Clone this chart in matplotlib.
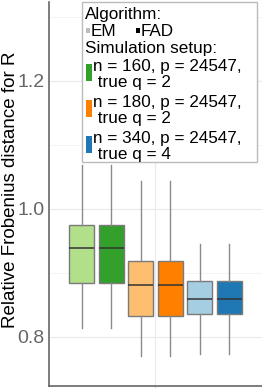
import matplotlib
matplotlib.use('Agg')
import matplotlib.pyplot as plt
from matplotlib.patches import Rectangle

plt.rcParams['font.family'] = ['Liberation Sans', 'DejaVu Sans']

# --- data ---
setups = ['n = 160, p = 24547,\n true q = 2',
          'n = 180, p = 24547,\n true q = 2',
          'n = 340, p = 24547,\n true q = 4']
algorithms = ['EM', 'FAD']
whislo = [0.814, 0.814, 0.770, 0.770, 0.773, 0.773]
q1 = [0.885, 0.885, 0.832, 0.832, 0.836, 0.836]
med = [0.939, 0.939, 0.881, 0.881, 0.860, 0.860]
q3 = [0.975, 0.975, 0.919, 0.919, 0.888, 0.888]
whishi = [1.069, 1.069, 1.044, 1.044, 0.946, 0.946]
box_colors = ['#b2df8a', '#33a02c', '#fdbf6f', '#ff7f00', '#a6cee3', '#1f78b4']
setup_colors = ['#33a02c', '#ff7f00', '#1f78b4']
alg_colors = ['#bdbdbd', '#000000']

W, H = 262, 388
fig = plt.figure(figsize=(W / 100, H / 100), dpi=100)
ax = fig.add_axes([49 / W, 2 / H, 213 / W, 384 / H])

offsets = [-0.415, -0.249, -0.083, 0.083, 0.249, 0.415]
stats = []
for i in range(6):
    stats.append({'med': med[i], 'q1': q1[i], 'q3': q3[i],
                  'whislo': whislo[i], 'whishi': whishi[i], 'fliers': []})
bp = ax.bxp(stats, positions=[1 + o for o in offsets], widths=0.141,
            patch_artist=True, showfliers=False, showcaps=False,
            boxprops=dict(edgecolor='#7a7a7a', linewidth=1.0),
            medianprops=dict(color='#333333', linewidth=1.1),
            whiskerprops=dict(color='#8a8a8a', linewidth=1.0))
for patch, c in zip(bp['boxes'], box_colors):
    patch.set_facecolor(c)

ax.set_xlim(0.4, 1.6)
ax.set_ylim(0.7234, 1.3234)
ax.set_yticks([0.8, 1.0, 1.2])
ax.set_yticklabels(['0.8', '1.0', '1.2'])
ax.set_yticks([0.9, 1.1, 1.3], minor=True)
ax.set_xticks([1.0])
ax.set_xticklabels([''])
ax.tick_params(axis='y', which='both', length=0, labelsize=14, labelcolor='#666666', pad=3)
ax.tick_params(axis='x', length=2, color='#cccccc')
ax.grid(True, which='major', color='#ebebeb', linewidth=0.9)
ax.grid(True, which='minor', axis='y', color='#f3f3f3', linewidth=0.6)
ax.set_axisbelow(True)
for s in ['top', 'right']:
    ax.spines[s].set_visible(False)
for s in ['left', 'bottom']:
    ax.spines[s].set_color('#666666')
    ax.spines[s].set_linewidth(1.2)
ax.set_ylabel('Relative Frobenius distance for R', fontsize=13.5)
ax.yaxis.set_label_coords(-0.141, 0.51)


def px(x, y):
    return x / W, 1 - y / H


# legend drawn by hand, ggplot style
lx0, ly0, lx1, ly1 = 82, 2, 257, 162
fig.add_artist(Rectangle(px(lx0, ly1), (lx1 - lx0) / W, (ly1 - ly0) / H,
                         transform=fig.transFigure, facecolor='white',
                         edgecolor='#bbbbbb', linewidth=1.0, zorder=5))
fs = 12.3
fig.text(*px(85, 19), 'Algorithm:', fontsize=fs, va='baseline', zorder=6)
for k, (name, c) in enumerate(zip(algorithms, alg_colors)):
    x0 = 86 + 50 * k
    fig.add_artist(Rectangle(px(x0, 33), 4 / W, 5 / H, transform=fig.transFigure,
                             facecolor=c, edgecolor='none', zorder=6))
    fig.text(*px(x0 + 5, 36), name, fontsize=fs, va='baseline', zorder=6)
fig.text(*px(85, 53), 'Simulation setup:', fontsize=fs, va='baseline', zorder=6)
for k, (label, c) in enumerate(zip(setups, setup_colors)):
    top = 64 + 36 * k
    fig.add_artist(Rectangle(px(86, top + 17), 6 / W, 17 / H, transform=fig.transFigure,
                             facecolor=c, edgecolor='none', zorder=6))
    line1, line2 = label.split('\n')
    fig.text(*px(93, top + 6.5), line1, fontsize=fs, va='baseline', zorder=6)
    fig.text(*px(93, top + 23), line2, fontsize=fs, va='baseline', zorder=6)

fig.savefig('out.png', dpi=100)
